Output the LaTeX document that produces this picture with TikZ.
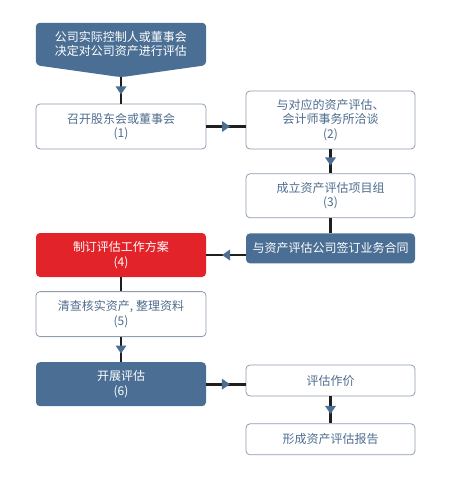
\documentclass[tikz,border=0pt]{standalone}
\usepackage{fontspec}
\setmainfont{Noto Sans CJK SC}
\usepackage{tikz}
\usetikzlibrary{arrows.meta, positioning, calc, backgrounds, decorations.markings}
\definecolor{flowblue}{HTML}{4B6F94}
\definecolor{flowred}{HTML}{E3232A}
\definecolor{flowtext}{HTML}{4E6D8E}
\definecolor{flowedge}{HTML}{8E9DB0}
\tikzstyle{base} = [rectangle, rounded corners=4pt, align=center, inner sep=0pt, font=\fontsize{12}{14.5}\selectfont]
\tikzstyle{plain} = [base, draw=flowedge, line width=0.8pt, fill=white, text=flowtext]
\tikzstyle{filled} = [base, fill=flowblue, text=white]
\tikzstyle{alert} = [base, fill=flowred, text=white]
\tikzstyle{link} = [line width=2.8pt, draw=black!88]
\tikzstyle{arrow} = [link, postaction={decorate}, decoration={markings, mark=at position 0.5 with {\fill[flowblue] (4pt,0) -- (-4pt,5.5pt) -- (-4pt,-5.5pt) -- cycle;}}]

\begin{document}
\begin{tikzpicture}[x=1pt, y=-1pt]
              \useasboundingbox (0,0) rectangle (465,483);

              % left column
              \node[base, text=white, minimum width=170pt, minimum height=42pt] (start) at (121,44) {公司实际控制人或董事会\\决定对公司资产进行评估};
              \coordinate (start-tip) at ($(start.south)+(0,12)$);
              \begin{scope}[on background layer]
                  \fill[flowblue, rounded corners=4pt] (start.north west) -- (start.north east) -- (start.south east) -- (start-tip) -- (start.south west) -- cycle;
              \end{scope}

              \node[plain, minimum width=170pt, minimum height=45pt] (convene) at (121,126.5) {召开股东会或董事会\\(1)};
              \node[alert, minimum width=170pt, minimum height=44pt] (plan) at (121,255) {制订评估工作方案\\(4)};
              \node[plain, below=14pt of plan, minimum width=170pt, minimum height=45pt] (verify) {清查核实资产, 整理资料\\(5)};
              \node[filled, below=25pt of verify, minimum width=170pt, minimum height=44pt] (appraise) {开展评估\\(6)};

              % right column
              \node[plain, minimum width=169pt, minimum height=58pt] (negotiate) at (330.5,120) {与对应的资产评估、\\会计师事务所洽谈\\(2)};
              \node[plain, below=24pt of negotiate, minimum width=169pt, minimum height=44pt] (team) {成立资产评估项目组\\(3)};
              \node[filled, below=15pt of team, minimum width=169pt, minimum height=30pt] (contract) {与资产评估公司签订业务合同};
              \node[plain, minimum width=169pt, minimum height=31pt] (price) at (330.5,380.5) {评估作价};
              \node[plain, below=27pt of price, minimum width=169pt, minimum height=31pt] (report) {形成资产评估报告};

              \draw[arrow] (start-tip) -- (convene.north);
              \draw[arrow] (convene.east) -- (convene.east -| negotiate.west);
              \draw[arrow] (negotiate.south) -- (team.north);
              \draw[link] (team.south) -- (contract.north);
              \draw[arrow] (contract.west |- plan.east) -- (plan.east);
              \draw[link] (plan.south) -- (verify.north);
              \draw[arrow] (verify.south) -- (appraise.north);
              \draw[arrow] (appraise.east) -- (appraise.east -| price.west);
              \draw[arrow] (price.south) -- (report.north);

          \end{tikzpicture}
\end{document}
